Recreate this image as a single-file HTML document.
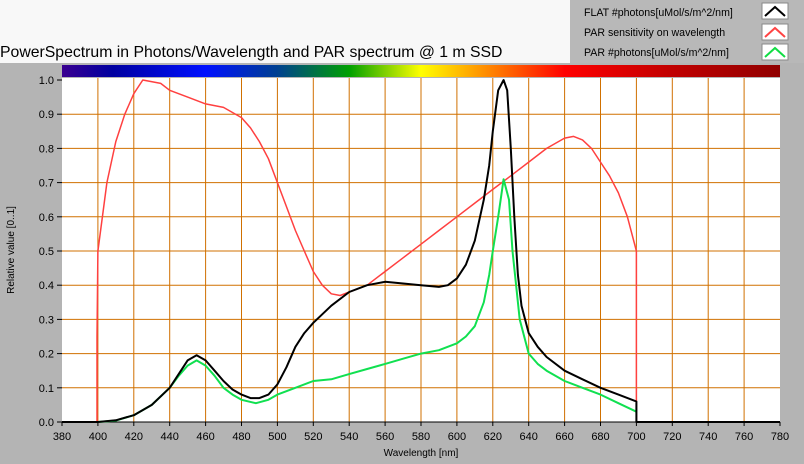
<!DOCTYPE html><html><head><style>body{margin:0;width:804px;height:464px;overflow:hidden;font-family:"Liberation Sans",sans-serif}</style></head><body>
<svg id="s" width="804" height="464" xmlns="http://www.w3.org/2000/svg" style="display:block">
<defs><linearGradient id="sp" x1="0" x2="1"><stop offset="0" stop-color="#3a0090"/><stop offset="0.07" stop-color="#0000a0"/><stop offset="0.2" stop-color="#0010ff"/><stop offset="0.3" stop-color="#004090"/><stop offset="0.4" stop-color="#00a000"/><stop offset="0.5" stop-color="#ffff00"/><stop offset="0.6" stop-color="#ff8000"/><stop offset="0.7" stop-color="#ff0000"/><stop offset="0.85" stop-color="#c00000"/><stop offset="1" stop-color="#900000"/></linearGradient></defs>
<rect width="804" height="464" fill="#b4b4b4"/>
<rect x="0" y="0" width="570" height="63" fill="#f8f8f8"/>
<rect x="570" y="0" width="234" height="63" fill="#b8b8b8"/>
<text x="0" y="57" font-size="15.8" fill="#000">PowerSpectrum in Photons/Wavelength and PAR spectrum @ 1 m SSD</text>
<g font-size="10.6" fill="#000">
<text x="584" y="16">FLAT #photons[uMol/s/m^2/nm]</text>
<text x="584" y="36">PAR sensitivity on wavelength</text>
<text x="584" y="56">PAR #photons[uMol/s/m^2/nm]</text></g>
<rect x="762" y="3" width="26" height="16" fill="#fff" stroke="#888"/><polyline points="765,16 775,7 785,16" fill="none" stroke="#000" stroke-width="2"/>
<rect x="762" y="24" width="26" height="16" fill="#fff" stroke="#888"/><polyline points="765,37 775,28 785,37" fill="none" stroke="#f44" stroke-width="2"/>
<rect x="762" y="44" width="26" height="16" fill="#fff" stroke="#888"/><polyline points="765,57 775,48 785,57" fill="none" stroke="#1d4" stroke-width="2"/>
<rect x="62" y="65" width="718" height="12" fill="url(#sp)"/>
<rect x="62" y="78" width="718" height="344" fill="#fff"/>
<g id="g"></g>
<text x="14" y="250" font-size="10" transform="rotate(-90 14 250)" text-anchor="middle">Relative value [0..1]</text>
<text x="421" y="456" font-size="10" text-anchor="middle">Wavelength [nm]</text>
</svg>
<script>
var g=document.getElementById('g'),h='';
function X(n){return 62+(n-380)*1.795}function Y(v){return 422-v*342}
for(var n=400;n<780;n+=20)h+='<line x1="'+X(n)+'" x2="'+X(n)+'" y1="78" y2="422" stroke="#d07000"/>';
for(var i=1;i<10;i++)h+='<line x1="62" x2="780" y1="'+Y(i/10)+'" y2="'+Y(i/10)+'" stroke="#d07000"/>';
for(var n=380;n<=780;n+=20)h+='<text x="'+X(n)+'" y="440" font-size="11" text-anchor="middle">'+n+'</text><line x1="'+X(n)+'" x2="'+X(n)+'" y1="422" y2="426" stroke="#000"/>';
for(var i=0;i<=10;i++)h+='<text x="54" y="'+(Y(i/10)+4)+'" font-size="11" text-anchor="end">'+(i/10).toFixed(1)+'</text><line x1="57" x2="62" y1="'+Y(i/10)+'" y2="'+Y(i/10)+'" stroke="#000"/>';
h+='<line x1="62" x2="780" y1="422" y2="422" stroke="#000"/>';
function P(d,c,w){var s='';for(var i=0;i<d.length;i+=2)s+=X(d[i]).toFixed(1)+','+Y(d[i+1]).toFixed(1)+' ';return '<polyline points="'+s+'" fill="none" stroke="'+c+'" stroke-width="'+w+'" stroke-linejoin="round"/>'}
var R=[399.5,0,399.5,0.25,400,0.5,405,0.7,410,0.82,415,0.9,420,0.96,425,1,435,0.99,440,0.97,450,0.95,460,0.93,470,0.92,480,0.89,485,0.86,490,0.82,495,0.77,500,0.7,505,0.63,510,0.56,515,0.5,520,0.44,525,0.4,530,0.375,535,0.37,540,0.38,550,0.4,560,0.44,570,0.48,580,0.52,590,0.56,600,0.6,610,0.64,620,0.68,630,0.72,640,0.76,650,0.8,660,0.83,665,0.835,670,0.825,675,0.8,680,0.76,685,0.72,690,0.67,695,0.6,700,0.5,700,0];
var G=[400,0,410,0.004,420,0.02,430,0.05,440,0.1,445,0.135,450,0.165,455,0.18,460,0.165,465,0.135,470,0.1,475,0.08,480,0.065,488,0.055,495,0.065,500,0.08,510,0.1,520,0.12,530,0.125,540,0.14,550,0.155,560,0.17,570,0.185,580,0.2,590,0.21,600,0.23,605,0.25,610,0.28,615,0.35,618,0.43,620,0.5,623,0.6,626,0.71,629,0.65,631,0.5,633,0.4,635,0.3,640,0.2,645,0.17,650,0.15,660,0.12,670,0.1,680,0.08,690,0.055,700,0.03];
var B=[380,0,400,0,410,0.005,420,0.02,430,0.05,440,0.1,445,0.14,450,0.18,455,0.195,460,0.18,465,0.15,470,0.12,475,0.095,480,0.08,485,0.07,490,0.07,495,0.08,500,0.11,505,0.16,510,0.22,515,0.26,520,0.29,530,0.34,540,0.38,550,0.4,560,0.41,570,0.405,580,0.4,590,0.395,595,0.4,600,0.42,605,0.46,610,0.53,615,0.65,618,0.75,620,0.85,623,0.97,626,1,628,0.97,630,0.8,632,0.6,634,0.43,636,0.34,640,0.26,645,0.22,650,0.19,660,0.15,670,0.125,680,0.1,690,0.08,700,0.06,700,0,780,0];
h+=P(R,'#ff4040',1.5)+P(G,'#10e050',2)+P(B,'#000',2);
g.innerHTML=h;
</script></body></html>
